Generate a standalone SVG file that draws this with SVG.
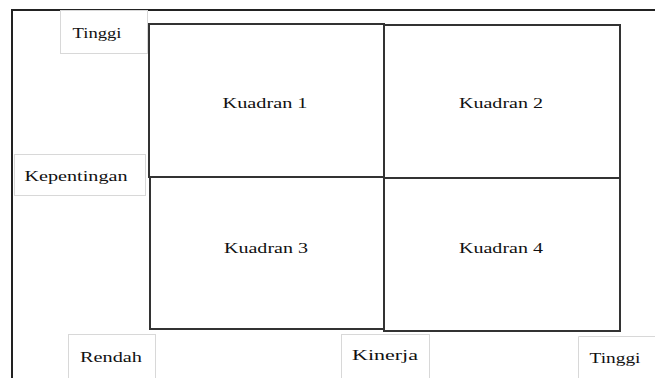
<svg xmlns="http://www.w3.org/2000/svg" width="655" height="378" viewBox="0 0 655 378">
<style>
.frame{stroke:#222;stroke-width:2;fill:none}
.lbl{fill:#fff;stroke:#d8d8d8;stroke-width:1}
.q{fill:#fff;stroke:#333;stroke-width:2}
.t{font-family:'Liberation Serif',serif;font-size:15px;fill:#111;text-anchor:middle}
</style>
<rect width="655" height="378" fill="#fff"/>
<g id="axes">
<path class="frame" d="M12,378 V10 H655"/>
</g>
<g id="q1"><rect class="q" x="149" y="24" width="235" height="153"/><text class="t" x="265" y="108" textLength="85" lengthAdjust="spacingAndGlyphs">Kuadran 1</text></g>
<g id="q2"><rect class="q" x="384" y="25" width="236" height="153"/><text class="t" x="501" y="108" textLength="84" lengthAdjust="spacingAndGlyphs">Kuadran 2</text></g>
<g id="q3"><rect class="q" x="150" y="177" width="234" height="152"/><text class="t" x="266" y="253" textLength="84" lengthAdjust="spacingAndGlyphs">Kuadran 3</text></g>
<g id="q4"><rect class="q" x="384" y="178" width="236" height="153"/><text class="t" x="501" y="253" textLength="84" lengthAdjust="spacingAndGlyphs">Kuadran 4</text></g>
<g id="tinggi-y"><rect class="lbl" x="60.5" y="10.5" width="87" height="43"/><text class="t" x="97" y="38" textLength="49" lengthAdjust="spacingAndGlyphs">Tinggi</text></g>
<g id="kepentingan"><rect class="lbl" x="14.5" y="154.5" width="131" height="41"/><text class="t" x="76" y="181" textLength="103" lengthAdjust="spacingAndGlyphs">Kepentingan</text></g>
<g id="rendah"><rect class="lbl" x="68.5" y="334.5" width="87" height="50"/><text class="t" x="111" y="362" textLength="62" lengthAdjust="spacingAndGlyphs">Rendah</text></g>
<g id="kinerja"><rect class="lbl" x="341.5" y="334.5" width="88" height="50"/><text class="t" x="385" y="360" textLength="66" lengthAdjust="spacingAndGlyphs">Kinerja</text></g>
<g id="tinggi-x"><path class="lbl" d="M578.5,378 V336.5 H655"/><text class="t" x="615" y="363" textLength="51" lengthAdjust="spacingAndGlyphs">Tinggi</text></g>
<g id="connectors"></g>
</svg>
